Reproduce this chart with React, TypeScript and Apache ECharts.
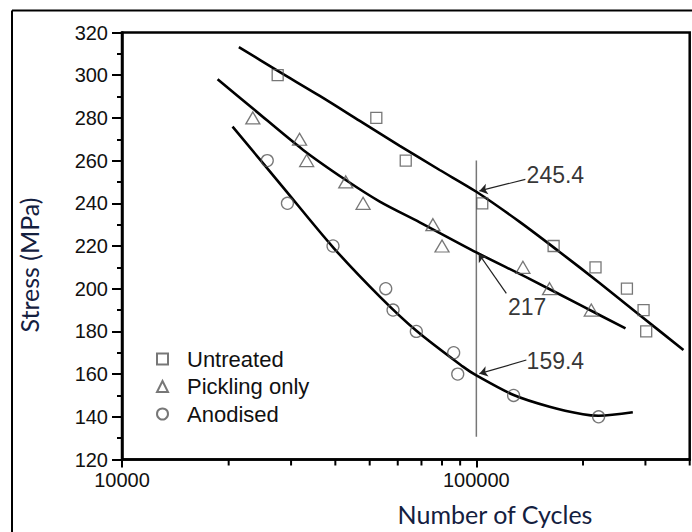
import React, { useEffect, useRef } from 'react';
import * as echarts from 'echarts';

// ---- data ----
const seriesNames = ['Untreated', 'Pickling only', 'Anodised'];

// measured points [cycles, stress MPa]
const untreatedPoints = [
  [27500, 300], [52200, 280], [63200, 260], [103900, 240], [165200, 220],
  [216900, 210], [266000, 200], [296400, 190], [301500, 180],
];
const picklingPoints = [
  [23400, 280], [31700, 270], [33200, 260], [42800, 250], [47900, 240],
  [75400, 230], [80000, 220], [135300, 210], [160900, 200], [211000, 190],
];
const anodisedPoints = [
  [25700, 260], [29300, 240], [39400, 220], [55500, 200], [58200, 190],
  [67700, 180], [86300, 170], [88600, 160], [127400, 150], [221300, 140],
];

// fitted S-N curves [cycles, stress]
const untreatedCurve = [
  [21370, 313.2], [27530, 302.0], [36150, 290.3], [46880, 278.6], [60790, 266.9],
  [78790, 255.6], [100000, 245.4], [132500, 231.3], [171800, 217.2], [222700, 202.7],
  [288700, 187.7], [384100, 171.3],
];
const picklingCurve = [
  [18610, 298.1], [23360, 284.5], [32450, 265.0], [42810, 250.9], [53390, 240.8],
  [69210, 231.1], [100000, 217.0], [141300, 204.6], [195500, 192.5], [263600, 181.4],
];
const anodisedCurve = [
  [20510, 275.9], [28440, 247.6], [39410, 219.4], [53390, 196.3], [67740, 180.3],
  [91660, 163.5], [100000, 159.4], [127400, 150.2], [160900, 144.7], [199800, 141.2],
  [221300, 140.5], [276400, 142.1],
];

// reference line at 10^5 cycles
const referenceLine = [[100000, 130.7], [100000, 260]];

// annotation values and where their labels / arrows sit (data space)
const annotationTexts = ['245.4', '217', '159.4'];
const annotationLabelAt = [[167100, 253.2], [139100, 191.2], [167100, 166.1]];
const annotationArrowFrom = [[137500, 251.2], [121500, 197.8], [138400, 166.6]];
const annotationArrowTo = [[102000, 245.8], [101500, 216.4], [102000, 160.2]];

// axes
const xMin = 10000;
const xMax = 400000;
const xMinorTicks = [20000, 30000, 40000, 50000, 60000, 70000, 80000, 90000, 200000, 300000, 400000];
const yMin = 120;
const yMax = 320;
const yInterval = 20;

const xTitle = 'Number of Cycles';
const yTitle = 'Stress (MPa)';

export default function App() {
  const ref = useRef<HTMLDivElement>(null);

  useEffect(() => {
    if (!ref.current) return;
    const chart = echarts.init(ref.current, undefined, { renderer: 'svg' });

    const tickFont = { fontFamily: 'Liberation Sans, Arial, sans-serif', fontSize: 20, color: '#111' };
    const markerStyle = (c: string) => ({ color: 'rgba(255,255,255,0)', borderColor: c, borderWidth: 1.3 });
    const curveStyle = { color: '#000', width: 2.6 };

    const option: any = {
      animation: false,
      backgroundColor: '#ffffff',
      grid: {
        left: 122, right: 2.3, top: 32.5, bottom: 72.5,
        show: true, borderColor: '#000', borderWidth: 2.5, backgroundColor: 'transparent',
      },
      xAxis: {
        type: 'log',
        logBase: 10,
        min: xMin,
        max: xMax,
        axisLine: { show: true, lineStyle: { color: '#000', width: 2.5 } },
        axisTick: { show: true, length: 8, lineStyle: { color: '#000', width: 2 } },
        minorTick: { show: false },
        splitLine: { show: false },
        minorSplitLine: { show: false },
        axisLabel: {
          ...tickFont,
          margin: 10,
          showMaxLabel: false,
          formatter: (v: number) => String(Math.round(v)),
        },
      },
      yAxis: {
        type: 'value',
        min: yMin,
        max: yMax,
        interval: yInterval,
        axisLine: { show: true, lineStyle: { color: '#000', width: 2.5 } },
        axisTick: { show: true, length: 10, lineStyle: { color: '#000', width: 2 } },
        minorTick: { show: true, splitNumber: 2, length: 5, lineStyle: { color: '#000', width: 2 } },
        splitLine: { show: false },
        axisLabel: { ...tickFont, margin: 14 },
      },
      legend: {
        data: seriesNames,
        orient: 'vertical',
        left: 151,
        top: 343,
        itemWidth: 11,
        itemHeight: 11,
        itemGap: 5.5,
        selectedMode: false,
        textStyle: {
          fontFamily: 'Liberation Sans, Arial, sans-serif',
          fontSize: 22,
          color: '#111',
          padding: [0, 0, 0, 14],
        },
      },
      graphic: [
        {
          type: 'line',
          silent: true,
          z: 100,
          shape: { x1: 12, y1: 10.5, x2: 692, y2: 10.5 },
          style: { stroke: '#000', lineWidth: 2 },
        },
        {
          type: 'line',
          silent: true,
          z: 100,
          shape: { x1: 12, y1: 10.5, x2: 12, y2: 532 },
          style: { stroke: '#000', lineWidth: 2 },
        },
        {
          type: 'text',
          x: 495,
          y: 514,
          silent: true,
          style: {
            text: xTitle,
            fontFamily: 'Lato', fontSize: 25, fill: '#14203f',
            align: 'center', verticalAlign: 'middle',
          },
        },
        {
          type: 'text',
          x: 29,
          y: 265,
          rotation: Math.PI / 2,
          silent: true,
          style: {
            text: yTitle,
            fontFamily: 'Lato', fontSize: 25, fill: '#14203f',
            align: 'center', verticalAlign: 'middle',
          },
        },
      ],
      series: [
        {
          name: 'Untreated', type: 'scatter', symbol: 'rect', symbolSize: 11,
          itemStyle: markerStyle('#555'), data: untreatedPoints, z: 3,
        },
        {
          name: 'Pickling only', type: 'scatter', symbol: 'triangle', symbolSize: [14, 12],
          itemStyle: markerStyle('#555'), data: picklingPoints, z: 3,
        },
        {
          name: 'Anodised', type: 'scatter', symbol: 'circle', symbolSize: 12,
          itemStyle: markerStyle('#555'), data: anodisedPoints, z: 3,
        },
        {
          name: 'Untreated fit', type: 'line', data: untreatedCurve, smooth: 0.3,
          symbol: 'none', lineStyle: curveStyle, z: 2,
        },
        {
          name: 'Pickling only fit', type: 'line', data: picklingCurve, smooth: 0.3,
          symbol: 'none', lineStyle: curveStyle, z: 2,
        },
        {
          name: 'Anodised fit', type: 'line', data: anodisedCurve, smooth: 0.3,
          symbol: 'none', lineStyle: curveStyle, z: 2,
        },
        {
          name: 'Reference 100000', type: 'line', data: referenceLine,
          symbol: 'none', lineStyle: { color: '#777', width: 1.5 }, z: 1,
        },
        {
          name: 'Minor ticks', type: 'custom', clip: false, silent: true,
          data: xMinorTicks.map((v) => [v, yMin]),
          renderItem: (_params: any, api: any) => {
            const p = api.coord([api.value(0), yMin]);
            return {
              type: 'line',
              shape: { x1: p[0], y1: p[1], x2: p[0], y2: p[1] + 6 },
              style: { stroke: '#000', lineWidth: 2 },
            };
          },
        },
        {
          name: 'Annotations', type: 'scatter', symbol: 'circle', symbolSize: 1, silent: true,
          itemStyle: { color: 'rgba(0,0,0,0)' },
          label: {
            show: true, position: 'inside',
            fontFamily: 'Liberation Sans, Arial, sans-serif', fontSize: 23, color: '#000',
            textBorderWidth: 0,
            formatter: (p: any) => annotationTexts[p.dataIndex],
          },
          labelLayout: { hideOverlap: false },
          data: annotationLabelAt,
          markLine: {
            silent: true,
            animation: false,
            symbol: ['none', 'arrow'],
            symbolSize: 8,
            label: { show: false },
            lineStyle: { color: '#222', width: 1.2, type: 'solid' },
            emphasis: { disabled: true },
            data: annotationArrowFrom.map((f, i) => [{ coord: f }, { coord: annotationArrowTo[i] }]),
          },
        },
      ],
    };

    chart.setOption(option);
    return () => chart.dispose();
  }, []);

  return (
    <div
      ref={ref}
      style={{ position: 'absolute', left: 0, top: 0, width: 692, height: 532, background: '#fff' }}
    />
  );
}
